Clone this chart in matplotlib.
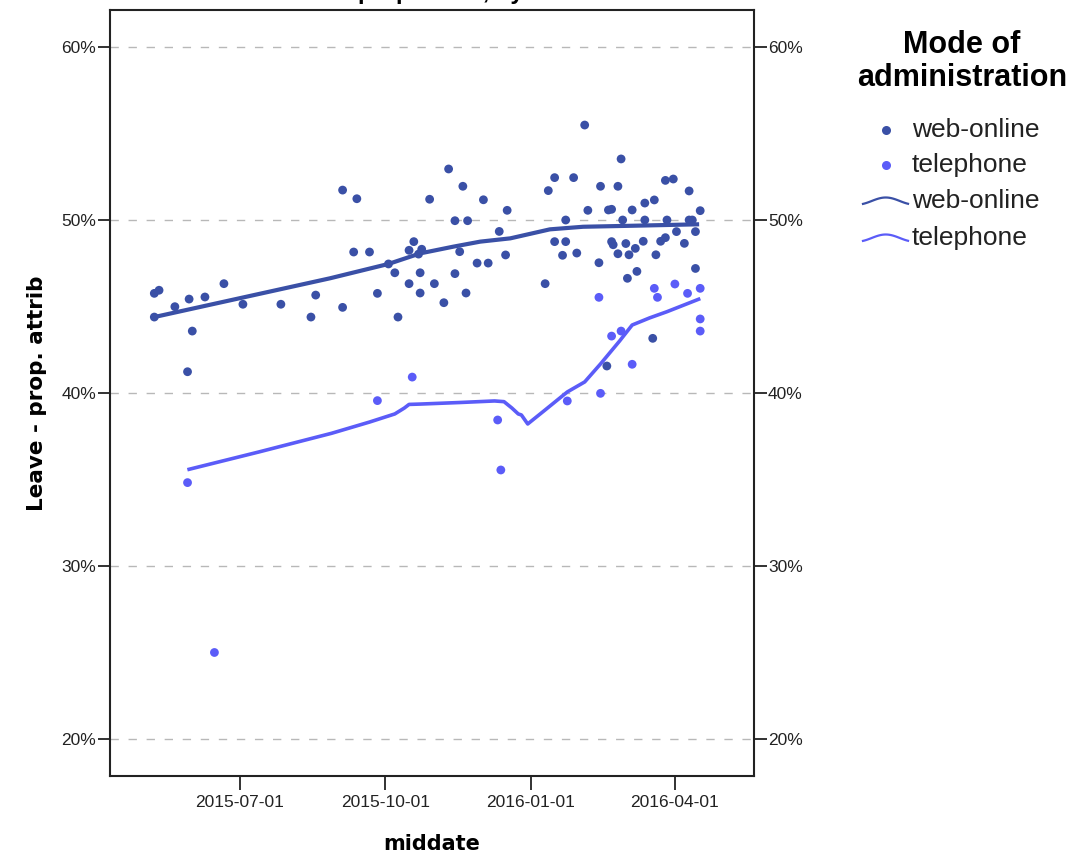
import numpy as np
import pandas as pd
import matplotlib
matplotlib.use("Agg")
import matplotlib.pyplot as plt
import matplotlib.dates as mdates
from matplotlib.lines import Line2D
from matplotlib.ticker import FuncFormatter

# web-online polls (middate, leave share %)
web_dates = ["2015-05-08", "2015-05-11", "2015-05-08", "2015-05-21", "2015-05-30", "2015-06-01",
             "2015-05-29", "2015-06-09", "2015-06-21", "2015-07-03", "2015-07-27", "2015-08-15",
             "2015-08-18", "2015-09-04", "2015-09-13", "2015-09-11", "2015-09-21", "2015-09-04",
             "2015-09-26", "2015-10-09", "2015-10-03", "2015-10-07", "2015-10-16", "2015-10-23",
             "2015-10-23", "2015-10-19", "2015-10-16", "2015-10-24", "2015-10-22", "2015-10-29",
             "2015-11-01", "2015-11-07", "2015-11-10", "2015-11-14", "2015-11-14", "2015-11-17",
             "2015-11-19", "2015-11-22", "2015-11-21", "2015-11-28", "2015-12-02", "2015-12-05",
             "2015-12-12", "2015-12-16", "2015-12-17", "2016-01-10", "2016-01-12", "2016-01-16",
             "2016-01-16", "2016-01-23", "2016-01-23", "2016-01-21", "2016-01-28", "2016-01-30",
             "2016-02-04", "2016-02-06", "2016-02-13", "2016-02-14", "2016-02-19", "2016-02-21",
             "2016-02-21", "2016-02-22", "2016-02-25", "2016-02-27", "2016-02-25", "2016-02-28",
             "2016-03-01", "2016-03-03", "2016-03-02", "2016-03-05", "2016-03-07", "2016-03-08",
             "2016-03-12", "2016-03-13", "2016-03-13", "2016-03-19", "2016-03-20", "2016-03-23",
             "2016-03-26", "2016-03-27", "2016-03-26", "2016-03-31", "2016-04-02", "2016-04-07",
             "2016-04-10", "2016-04-10", "2016-04-12", "2016-04-14", "2016-04-14", "2016-04-17",
             "2016-03-18", "2016-02-18"]
web_vals = [45.76, 45.94, 44.39, 44.99, 45.43, 43.58,
            41.23, 45.55, 46.32, 45.13, 45.13, 44.39,
            45.66, 51.73, 51.23, 48.15, 48.15, 44.95,
            45.76, 44.39, 47.46, 46.95, 46.32, 45.78,
            46.95, 48.75, 48.25, 48.31, 48.03, 51.20,
            46.32, 45.22, 52.95, 49.96, 46.90, 48.17,
            51.95, 49.96, 45.78, 47.51, 51.17, 47.51,
            49.34, 47.98, 50.56, 46.32, 51.70, 52.45,
            48.75, 48.75, 50.00, 47.96, 52.45, 48.09,
            55.49, 50.56, 47.53, 51.95, 50.58, 50.62,
            48.75, 48.57, 51.95, 53.53, 48.05, 50.00,
            48.64, 47.99, 46.63, 50.58, 48.36, 47.03,
            48.77, 50.98, 50.00, 51.16, 47.99, 48.77,
            48.98, 50.00, 52.29, 52.37, 49.33, 48.65,
            51.68, 50.00, 50.00, 49.33, 47.20, 50.54,
            43.16, 41.56]

# telephone polls
tel_dates = ["2015-05-29", "2015-06-15", "2015-09-26", "2015-10-18", "2015-12-11", "2015-12-13",
             "2016-01-24", "2016-02-14", "2016-02-13", "2016-02-21", "2016-02-27", "2016-03-05",
             "2016-03-19", "2016-03-21", "2016-04-01", "2016-04-09", "2016-04-17", "2016-04-17",
             "2016-04-17"]
tel_vals = [34.82, 25.00, 39.56, 40.92, 38.44, 35.55,
            39.54, 39.98, 45.53, 43.29, 43.58, 41.66,
            46.05, 45.53, 46.30, 45.76, 46.05, 44.28,
            43.58]

# smoothed (loess) fit lines
web_fit_dates = ["2015-05-08", "2015-08-27", "2015-10-03", "2015-10-23", "2015-11-13", "2015-11-30",
                 "2015-12-19", "2016-01-13", "2016-02-03", "2016-03-06", "2016-04-15"]
web_fit_vals = [44.39, 46.63, 47.46, 48.07, 48.46, 48.75, 48.94, 49.46, 49.61, 49.67, 49.75]

tel_fit_dates = ["2015-05-30", "2015-07-13", "2015-08-28", "2015-09-21", "2015-10-07", "2015-10-13",
                 "2015-10-16", "2015-10-23", "2015-11-17", "2015-12-09", "2015-12-15", "2015-12-20",
                 "2015-12-24", "2015-12-26", "2015-12-30", "2016-01-10", "2016-01-24", "2016-02-04",
                 "2016-02-14", "2016-02-26", "2016-03-05", "2016-03-16", "2016-03-27", "2016-04-16"]
tel_fit_vals = [35.59, 36.59, 37.67, 38.32, 38.79, 39.13,
                39.34, 39.36, 39.45, 39.54, 39.50, 39.13,
                38.79, 38.73, 38.21, 39.02, 40.06, 40.64,
                41.68, 43.00, 43.93, 44.34, 44.70, 45.42]

web_color = "#3a50a6"
tel_color = "#5b5cf8"

plt.rcParams['font.family'] = ['Liberation Sans', 'DejaVu Sans']

fig = plt.figure(figsize=(10.72, 8.56), dpi=100)
ax = fig.add_axes([110 / 1072, 1 - 776 / 856, 644 / 1072, 766 / 856])

ax.plot(pd.to_datetime(web_fit_dates), web_fit_vals, color=web_color, lw=3.0, zorder=3)
ax.plot(pd.to_datetime(tel_fit_dates), tel_fit_vals, color=tel_color, lw=2.6, zorder=3)
ax.scatter(pd.to_datetime(web_dates), web_vals, s=40, color=web_color, edgecolors='none', zorder=4)
ax.scatter(pd.to_datetime(tel_dates), tel_vals, s=40, color=tel_color, edgecolors='none', zorder=4)

ax.set_xlim(pd.Timestamp("2015-04-10"), pd.Timestamp("2016-05-21"))
ax.set_ylim(17.86, 62.14)

yticks = [20, 30, 40, 50, 60]
for v in yticks:
    ax.axhline(v, color='#b8b8b8', lw=1.0, ls=(0, (6, 7)), zorder=1)
ax.set_yticks(yticks)
ax.yaxis.set_major_formatter(FuncFormatter(lambda v, p: f"{v:.0f}%"))
ax.tick_params(axis='y', which='both', left=True, right=True, labelleft=True, labelright=True,
               direction='out', length=9, width=1.3, labelsize=12.5, pad=1, colors='#222222')

xticks = pd.to_datetime(["2015-07-01", "2015-10-01", "2016-01-01", "2016-04-01"])
ax.set_xticks(xticks)
ax.xaxis.set_major_formatter(mdates.DateFormatter("%Y-%m-%d"))
ax.tick_params(axis='x', direction='out', length=10, width=1.3, labelsize=12.5, pad=4, colors='#222222')

for s in ax.spines.values():
    s.set_linewidth(1.5)
    s.set_color('#222222')

ax.set_xlabel("middate", family='DejaVu Sans', fontweight='bold', fontsize=15, labelpad=17)
ax.set_ylabel("Leave - prop. attrib", family='DejaVu Sans', fontweight='bold', fontsize=15.5, labelpad=10)

# title, mostly cut off at the top edge as in the original export
fig.text(432 / 1072, 1 + 1.5 / 856, "Leave - prop. attrib, by mode",
         ha='center', va='baseline', fontsize=17, fontweight='bold')

# legend
fig.text(962 / 1072, 1 - 45 / 856, "Mode of", ha='center', va='center', fontsize=22, fontweight='bold')
fig.text(962 / 1072, 1 - 78 / 856, "administration", ha='center', va='center', fontsize=22, fontweight='bold')
items = [("web-online", web_color, 'point', 130), ("telephone", tel_color, 'point', 165),
         ("web-online", web_color, 'wave', 201), ("telephone", tel_color, 'wave', 238)]
for label, col, kind, ypx in items:
    yf = 1 - ypx / 856
    if kind == 'point':
        fig.add_artist(Line2D([886 / 1072], [yf], marker='o', ms=6.5, color=col, mec='none', ls='none'))
    else:
        t = np.linspace(0, 1, 40)
        xs = (863 + 45 * t) / 1072
        ys = yf + (-3.5 * np.cos(2 * np.pi * 0.8 * t + 0.6)) / 856
        fig.add_artist(Line2D(xs, ys, color=col, lw=1.6))
    fig.text(912 / 1072, yf, label, ha='left', va='center', fontsize=19, color='#222222')

fig.savefig("out.png", dpi=100)
